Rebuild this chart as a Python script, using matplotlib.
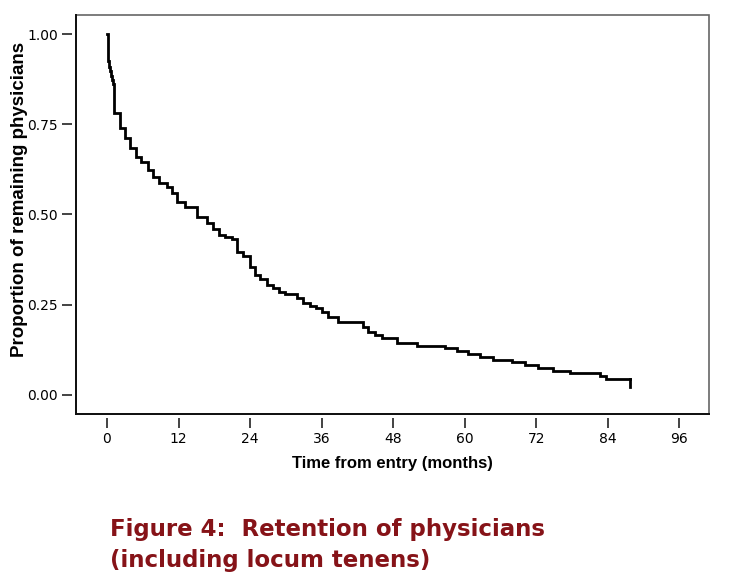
import matplotlib
matplotlib.use("Agg")
import matplotlib.pyplot as plt
from matplotlib.patches import Rectangle

# Kaplan-Meier style retention curve (time in months, proportion remaining after each drop)
times = [0.0, 0.1, 0.25, 0.4, 0.55, 0.7, 0.85, 1.0, 1.1, 2.1, 3.0, 3.9, 4.9, 5.7, 6.9, 7.7,
         8.7, 10.1, 10.9, 11.7, 13.1, 15.1, 16.8, 17.8, 18.8, 19.8, 21.0, 21.8, 22.8,
         24.0, 24.8, 25.7, 26.8, 27.9, 28.9, 29.9, 31.9, 32.9, 34.1, 35.1, 36.1, 37.1,
         38.8, 43.0, 43.8, 45.0, 46.1, 48.7, 52.0, 56.7, 58.7, 60.6, 62.6, 64.8, 68.0,
         70.1, 72.3, 74.8, 77.7, 82.7, 83.7, 87.7]
surv = [1.0, 0.934, 0.925, 0.91, 0.897, 0.884, 0.872, 0.862, 0.781, 0.740, 0.712, 0.684,
        0.659, 0.645, 0.623, 0.604, 0.587, 0.576, 0.560, 0.535, 0.521, 0.493, 0.477,
        0.460, 0.443, 0.437, 0.432, 0.396, 0.385, 0.355, 0.332, 0.321, 0.305, 0.296,
        0.284, 0.280, 0.269, 0.255, 0.246, 0.240, 0.230, 0.216, 0.202, 0.188, 0.175,
        0.166, 0.158, 0.144, 0.136, 0.130, 0.122, 0.113, 0.105, 0.097, 0.091, 0.083,
        0.075, 0.067, 0.061, 0.053, 0.044, 0.044]
end_value = 0.022

xticks = [0, 12, 24, 36, 48, 60, 72, 84, 96]
yticks = [0.0, 0.25, 0.5, 0.75, 1.0]
ytick_labels = ["0.00", "0.25", "0.50", "0.75", "1.00"]

W, H = 737, 588
fig = plt.figure(figsize=(W / 100, H / 100), dpi=100)
fig.patch.set_facecolor("white")
ax = fig.add_axes([76 / W, 1 - 414 / H, (709 - 76) / W, (414 - 15) / H])

ax.step(times, surv, where="post", color="black", lw=2.0, solid_joinstyle="miter")
ax.plot([times[-1], times[-1]], [surv[-1], end_value], color="black", lw=2.0)

ax.set_xlim(-5.2, 101.0)
ax.set_ylim(-0.053, 1.053)
ax.set_xticks(xticks)
ax.set_xticklabels([str(t) for t in xticks])
ax.set_yticks(yticks)
ax.set_yticklabels(ytick_labels)

tick_font = ["Liberation Sans", "DejaVu Sans"]
for lab in ax.get_xticklabels() + ax.get_yticklabels():
    lab.set_family(tick_font)
    lab.set_fontsize(8.5)
    lab.set_color("#333333")

for side in ["left", "bottom"]:
    ax.spines[side].set_position(("outward", 3))
    ax.spines[side].set_visible(False)
for side in ["top", "right"]:
    ax.spines[side].set_visible(False)
ax.add_patch(Rectangle((0, 0), 1, 1, transform=ax.transAxes, fill=False,
                       edgecolor="#666666", lw=1.2, clip_on=False, zorder=5))
ax.plot([0, 0], [0, 1], transform=ax.transAxes, color="#111111", lw=1.4, clip_on=False, zorder=6)
ax.plot([0, 1], [0, 0], transform=ax.transAxes, color="#111111", lw=1.4, clip_on=False, zorder=6)

ax.tick_params(direction="out", length=7, width=1.2, color="#222222", pad=3)

ax.set_xlabel("Time from entry (months)", family=tick_font, fontsize=12,
              fontweight="bold", labelpad=7)
ax.set_ylabel("Proportion of remaining physicians", family=tick_font, fontsize=13.5,
              fontweight="bold")
ax.yaxis.set_label_coords((28 - 76) / 633, (414 - 199) / 399)

fig.text(110 / W, 1 - 536 / H, "Figure 4:  Retention of physicians",
         family="DejaVu Sans", fontweight="bold", fontsize=16.5, color="#861318",
         ha="left", va="baseline")
fig.text(110 / W, 1 - 567 / H, "(including locum tenens)",
         family="DejaVu Sans", fontweight="bold", fontsize=16.5, color="#861318",
         ha="left", va="baseline")

fig.savefig("out.png", dpi=100, facecolor="white")
